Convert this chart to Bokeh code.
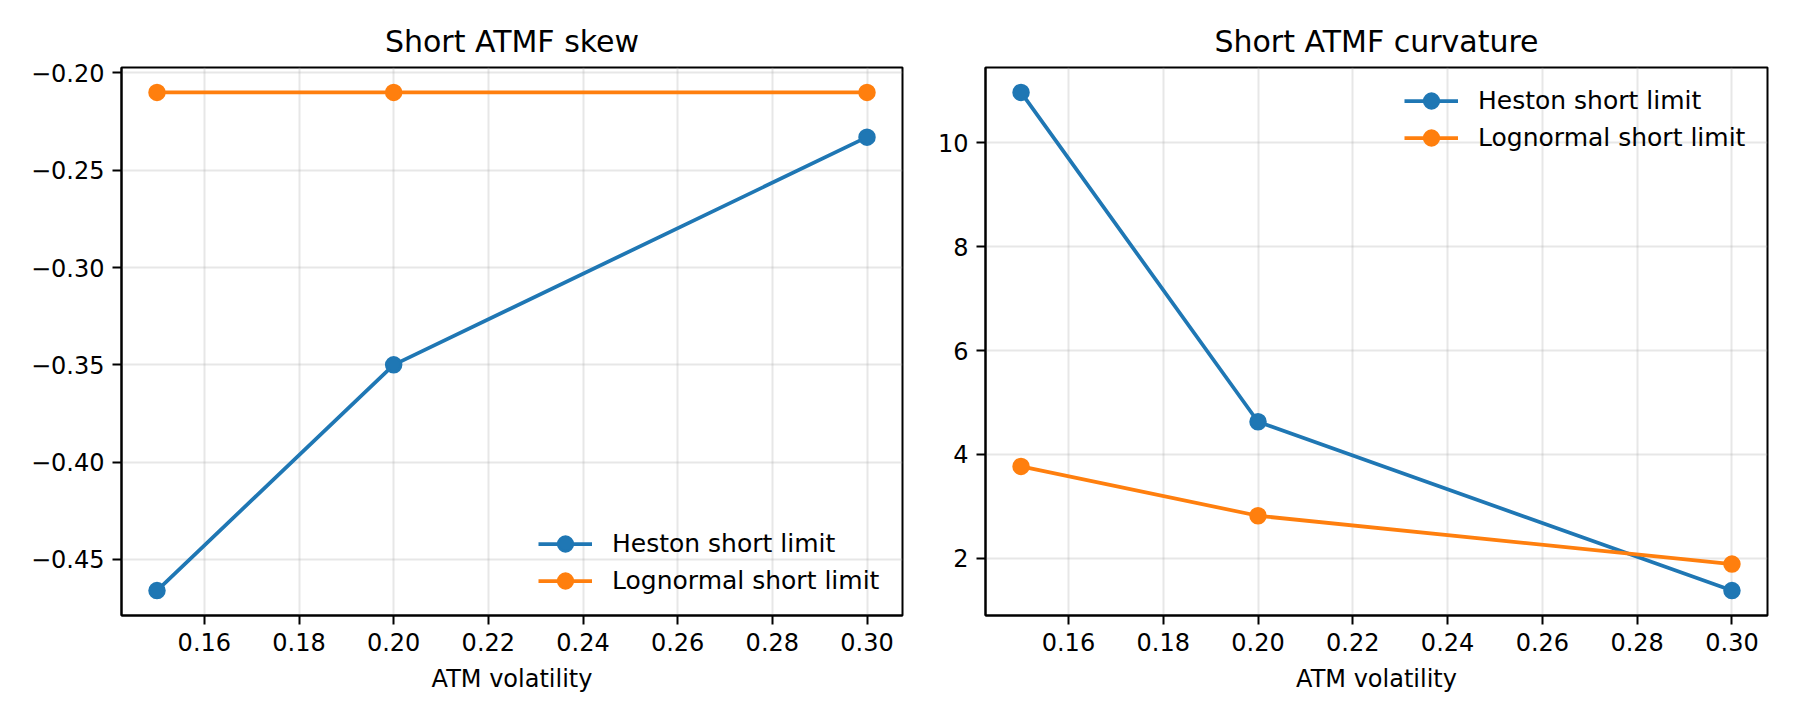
from bokeh.plotting import figure
from bokeh.layouts import row
from bokeh.models import Range1d, FixedTicker
from bokeh.embed import file_html
from bokeh.resources import INLINE

# ATM volatility grid and short-maturity limits
vol = [0.15, 0.20, 0.30]
heston_skew = [-0.466, -0.350, -0.233]
lognormal_skew = [-0.210, -0.210, -0.210]
heston_curv = [10.97, 4.63, 1.38]
lognormal_curv = [3.77, 2.82, 1.89]

x_ticks = [0.16, 0.18, 0.20, 0.22, 0.24, 0.26, 0.28, 0.30]
x_tick_labels = ["0.16", "0.18", "0.20", "0.22", "0.24", "0.26", "0.28", "0.30"]
skew_ticks = [-0.45, -0.40, -0.35, -0.30, -0.25, -0.20]
skew_tick_labels = ["\u22120.45", "\u22120.40", "\u22120.35", "\u22120.30", "\u22120.25", "\u22120.20"]
curv_ticks = [2, 4, 6, 8, 10]
curv_tick_labels = ["2", "4", "6", "8", "10"]

BLUE = "#1f77b4"
ORANGE = "#ff7f0e"
FONT = "DejaVu Sans"


def padded(values, frac=0.05):
    lo, hi = min(values), max(values)
    pad = (hi - lo) * frac
    return lo - pad, hi + pad


def make_panel(title, width, left, right, y_a, y_b, yticks, ylabels):
    x0, x1 = padded(vol)
    y0, y1 = padded(y_a + y_b)
    p = figure(width=width, height=720, output_backend="svg", toolbar_location=None,
               x_range=Range1d(x0, x1), y_range=Range1d(y0, y1),
               min_border_left=left, min_border_right=right,
               min_border_top=67, min_border_bottom=105)
    p.background_fill_color = "white"
    p.border_fill_color = "white"
    p.outline_line_color = "black"
    p.outline_line_width = 2

    p.title.text = title
    p.title.text_font = FONT
    p.title.text_font_size = "30px"
    p.title.text_font_style = "normal"
    p.title.text_color = "black"
    p.title.align = "center"
    p.title.standoff = 17

    p.xaxis.ticker = FixedTicker(ticks=x_ticks)
    p.xaxis.major_label_overrides = dict(zip(x_ticks, x_tick_labels))
    p.yaxis.ticker = FixedTicker(ticks=yticks)
    p.yaxis.major_label_overrides = dict(zip(yticks, ylabels))
    p.xaxis.axis_label = "ATM volatility"

    for ax in (p.xaxis, p.yaxis):
        ax.axis_line_color = "black"
        ax.axis_line_width = 2
        ax.major_tick_line_color = "black"
        ax.major_tick_line_width = 2
        ax.major_tick_out = 9
        ax.major_tick_in = 0
        ax.minor_tick_line_color = None
        ax.major_label_text_font = FONT
        ax.major_label_text_font_size = "24px"
        ax.major_label_text_color = "black"
        ax.major_label_standoff = 8
        ax.axis_label_text_font = FONT
        ax.axis_label_text_font_size = "24px"
        ax.axis_label_text_font_style = "normal"
        ax.axis_label_text_color = "black"
        ax.axis_label_standoff = 11

    p.grid.grid_line_color = "#b0b0b0"
    p.grid.grid_line_alpha = 0.3
    p.grid.grid_line_width = 2

    for ys, color, label in ((y_a, BLUE, "Heston short limit"),
                             (y_b, ORANGE, "Lognormal short limit")):
        p.line(vol, ys, line_color=color, line_width=3.75, legend_label=label)
        p.scatter(vol, ys, size=15, fill_color=color, line_color=color,
                  line_width=2.5, legend_label=label)

    lg = p.legend[0]
    lg.border_line_alpha = 0
    lg.background_fill_alpha = 0
    lg.label_text_font = FONT
    lg.label_text_font_size = "25px"
    lg.label_text_color = "black"
    lg.glyph_width = 54
    lg.glyph_height = 37
    lg.label_height = 37
    lg.label_width = 274
    lg.label_standoff = 20
    lg.spacing = 0
    lg.margin = 0
    return p


p1 = make_panel("Short ATMF skew", 930, 121, 28, heston_skew, lognormal_skew,
                skew_ticks, skew_tick_labels)
p1.legend.location = "bottom_right"
p1.legend.padding = 16

p2 = make_panel("Short ATMF curvature", 870, 55, 33, heston_curv, lognormal_curv,
                curv_ticks, curv_tick_labels)
p2.legend.location = "top_right"
p2.legend.padding = 15

layout = row(p1, p2)
open("out.html", "w").write(file_html(layout, INLINE))
